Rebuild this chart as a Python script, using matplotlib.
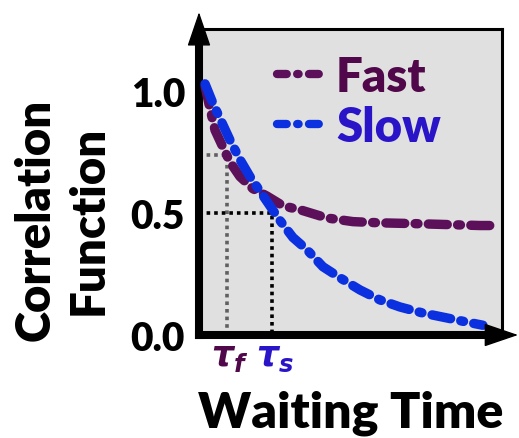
import matplotlib
matplotlib.use("Agg")
import matplotlib.pyplot as plt
from matplotlib.lines import Line2D

plt.rcParams['font.family'] = ['Lato', 'DejaVu Sans']
plt.rcParams['font.weight'] = 'heavy'
plt.rcParams['mathtext.fontset'] = 'custom'
plt.rcParams['mathtext.it'] = 'DejaVu Sans:italic:bold'
plt.rcParams['mathtext.rm'] = 'DejaVu Sans:bold'

fast_t = [0.2, 0.36, 0.53, 0.79, 1.02, 1.35, 1.78, 2.24, 2.77, 3.43, 4.22, 5.08,
          5.97, 7.06, 8.18, 9.27, 9.7]
fast_c = [1.02, 0.93, 0.84, 0.77, 0.71, 0.65, 0.60, 0.57, 0.53, 0.51, 0.48, 0.465,
          0.46, 0.457, 0.453, 0.449, 0.449]
slow_t = [0.2, 0.46, 0.76, 1.02, 1.35, 1.68, 2.01, 2.34, 2.67, 3.1, 3.56, 4.09,
          4.65, 5.31, 5.97, 6.63, 7.39, 8.18, 8.84, 9.37]
slow_c = [1.03, 0.95, 0.87, 0.80, 0.72, 0.65, 0.59, 0.53, 0.47, 0.40, 0.35, 0.28,
          0.235, 0.185, 0.144, 0.115, 0.09, 0.07, 0.053, 0.04]

labels = ['Fast', 'Slow']
line_colors = ['#5c105a', '#0a30e0']
text_colors = ['#50084a', '#2a14c8']

# characteristic times and the correlation level each one is read at
tau_f, tau_f_level = 0.92, 0.74
tau_s, tau_s_level = 2.41, 0.5
tau_labels = [r'$\tau_f$', r'$\tau_s$']

yticks = [0.0, 0.5, 1.0]
ytick_labels = ['0.0', '0.5', '1.0']

fig = plt.figure(figsize=(5.19, 4.39), dpi=100)
ax = fig.add_axes([199 / 519, 103 / 439, 303 / 519, 306 / 439])
ax.set_facecolor('#e0e0e0')
ax.set_xlim(0, 10)
ax.set_ylim(0, 1.255)

# dotted guides to the characteristic times
dot = (0, (1, 1.1))
ax.plot([0, tau_f, tau_f], [tau_f_level, tau_f_level, 0], color='#606060', lw=2.6,
        linestyle=dot, zorder=2)
ax.plot([0, tau_s, tau_s], [tau_s_level, tau_s_level, 0], color='black', lw=2.6,
        linestyle=dot, zorder=2)

dash = (0, (2.0, 1.1, 0.3, 1.1))
for t, c, col in [(fast_t, fast_c, line_colors[0]), (slow_t, slow_c, line_colors[1])]:
    ax.plot(t, c, color=col, lw=6.8, linestyle=dash, dash_capstyle='round',
            dash_joinstyle='round', zorder=3)

handles = [Line2D([], [], color=col, lw=6, linestyle=(0, (1.17, 1.25, 0.17, 1.25)),
                  dash_capstyle='round') for col in line_colors]
leg = ax.legend(handles, labels, loc='upper left', bbox_to_anchor=(0.257, 0.915),
                frameon=False, fontsize=34, handlelength=1.0, handletextpad=0.25,
                labelspacing=0.12, borderpad=0, borderaxespad=0)
for txt, col in zip(leg.get_texts(), text_colors):
    txt.set_color(col)

# frame: heavy left/bottom axes, light top/right
for side in ['left', 'bottom']:
    ax.spines[side].set_linewidth(5.8)
for side in ['top', 'right']:
    ax.spines[side].set_linewidth(2.2)

arrow = dict(arrowstyle='-|>,head_length=2.2,head_width=0.75', color='black',
             lw=1, mutation_scale=10, shrinkA=0, shrinkB=0)
ax.annotate('', xy=(0, 1.055), xytext=(0, 0.9), xycoords='axes fraction',
            arrowprops=arrow, annotation_clip=False)
ax.annotate('', xy=(1.053, 0), xytext=(0.9, 0), xycoords='axes fraction',
            arrowprops=arrow, annotation_clip=False)

ax.set_xticks([])
ax.set_yticks(yticks, ytick_labels)
ax.tick_params(axis='y', length=0, pad=10, labelsize=28)

trans = ax.get_xaxis_transform()
for x, lab, col in zip([tau_f, tau_s], tau_labels, text_colors):
    ax.text(x + 0.1, -0.015, lab, transform=trans, ha='center', va='top', color=col,
            fontsize=25)

fig.text(62 / 519, 1 - 220 / 439, 'Correlation\nFunction', rotation=90,
         ha='center', va='center', multialignment='center', fontsize=34,
         linespacing=1.25)
fig.text(351 / 519, 1 - 428 / 439, 'Waiting Time', ha='center', va='baseline',
         fontsize=36)

fig.savefig('out.png', dpi=100)
